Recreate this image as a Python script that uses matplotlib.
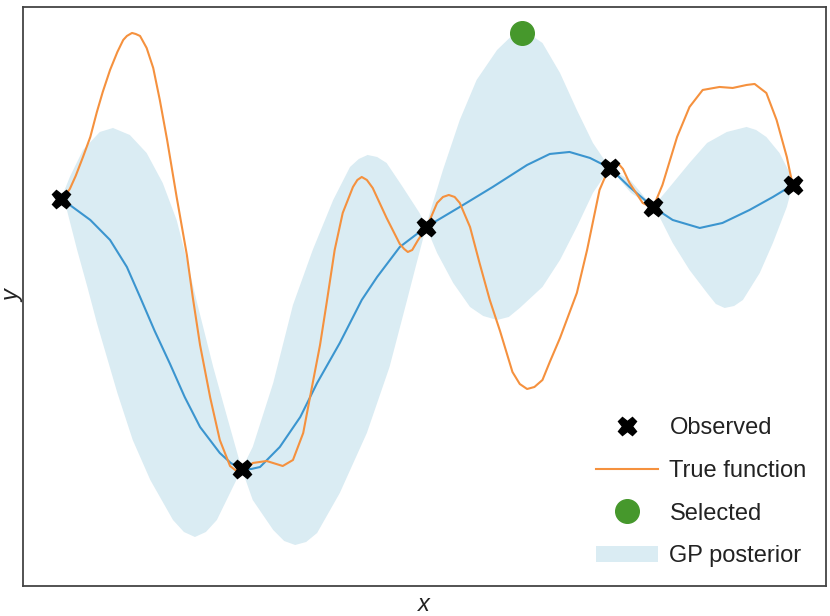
import numpy as np
import matplotlib
matplotlib.use('Agg')
import matplotlib.pyplot as plt

plt.rcParams['font.family'] = ['Liberation Sans', 'DejaVu Sans']

# observed points
obs_x = [0.00, 2.47, 4.99, 7.50, 8.09, 10.00]
obs_y = [1.01, -1.69, 0.73, 1.32, 0.93, 1.15]

# selected next point
sel_x = [6.30]
sel_y = [2.67]

# true function
true_x = [0.00, 0.07, 0.12, 0.20, 0.30, 0.40, 0.49, 0.57, 0.67, 0.77, 0.85, 0.90,
          0.97, 1.02, 1.08, 1.17, 1.26, 1.35, 1.45, 1.58, 1.72, 1.80, 1.90, 2.04,
          2.17, 2.31, 2.38, 2.45, 2.53, 2.62, 2.81, 3.03, 3.17, 3.31, 3.44, 3.54,
          3.63, 3.74, 3.85, 3.99, 4.05, 4.11, 4.18, 4.26, 4.45, 4.63, 4.69, 4.74,
          4.80, 4.88, 5.00, 5.14, 5.22, 5.30, 5.38, 5.45, 5.59, 5.72, 5.86, 6.00,
          6.17, 6.27, 6.37, 6.47, 6.58, 6.68, 6.82, 7.05, 7.19, 7.36, 7.50, 7.61,
          7.68, 7.77, 7.95, 8.09, 8.22, 8.42, 8.59, 8.77, 9.00, 9.18, 9.37, 9.48,
          9.64, 9.78, 9.92, 10.00]
true_y = [1.01, 1.06, 1.11, 1.24, 1.43, 1.63, 1.88, 2.08, 2.30, 2.48, 2.60, 2.64,
          2.67, 2.66, 2.64, 2.52, 2.32, 2.00, 1.60, 1.03, 0.45, 0.03, -0.45, -0.98,
          -1.40, -1.66, -1.70, -1.72, -1.70, -1.63, -1.61, -1.66, -1.60, -1.33, -0.83, -0.45,
          -0.03, 0.50, 0.87, 1.13, 1.20, 1.23, 1.20, 1.12, 0.82, 0.56, 0.51, 0.48,
          0.50, 0.60, 0.73, 0.97, 1.03, 1.05, 1.03, 0.97, 0.73, 0.37, 0.00, -0.31,
          -0.72, -0.84, -0.89, -0.87, -0.80, -0.62, -0.38, 0.07, 0.50, 1.10, 1.34, 1.37,
          1.31, 1.17, 0.97, 0.92, 1.15, 1.63, 1.93, 2.10, 2.13, 2.12, 2.15, 2.16,
          2.07, 1.80, 1.43, 1.15]

# GP posterior mean
mean_x = [0.00, 0.12, 0.40, 0.67, 0.90, 1.08, 1.28, 1.49, 1.69, 1.90, 2.17, 2.32,
          2.47, 2.60, 2.72, 2.99, 3.27, 3.50, 3.81, 4.11, 4.32, 4.63, 4.99, 5.45,
          5.90, 6.37, 6.68, 6.95, 7.23, 7.50, 7.77, 8.09, 8.36, 8.73, 9.04, 9.41,
          9.73, 10.00]
mean_y = [1.01, 0.95, 0.80, 0.60, 0.33, 0.03, -0.31, -0.64, -0.97, -1.27, -1.53, -1.63,
          -1.69, -1.69, -1.67, -1.47, -1.17, -0.83, -0.43, 0.00, 0.23, 0.53, 0.73, 0.93,
          1.13, 1.35, 1.46, 1.48, 1.42, 1.32, 1.13, 0.93, 0.80, 0.72, 0.77, 0.90,
          1.03, 1.15]

# upper edge of the posterior band
upper_x = [0.00, 0.12, 0.30, 0.53, 0.71, 0.94, 1.17, 1.39, 1.58, 1.72, 1.86, 2.08,
           2.27, 2.47, 2.62, 2.90, 3.17, 3.44, 3.72, 3.95, 4.07, 4.19, 4.32, 4.45,
           4.67, 4.90, 4.99, 5.04, 5.22, 5.45, 5.68, 5.96, 6.13, 6.30, 6.44, 6.58,
           6.82, 7.05, 7.27, 7.50, 7.79, 8.09, 8.32, 8.59, 8.83, 9.10, 9.37, 9.50,
           9.64, 9.82, 9.96, 10.00]
upper_y = [1.01, 1.23, 1.50, 1.68, 1.72, 1.65, 1.47, 1.17, 0.80, 0.40, -0.03, -0.67,
           -1.17, -1.69, -1.47, -0.83, -0.05, 0.50, 1.00, 1.33, 1.41, 1.45, 1.43, 1.37,
           1.13, 0.87, 0.73, 0.87, 1.30, 1.80, 2.20, 2.50, 2.62, 2.67, 2.64, 2.57,
           2.27, 1.90, 1.57, 1.32, 1.19, 0.93, 1.13, 1.37, 1.57, 1.68, 1.73, 1.70,
           1.63, 1.47, 1.27, 1.15]

# lower edge of the posterior band
lower_x = [0.00, 0.08, 0.22, 0.36, 0.49, 0.77, 0.98, 1.22, 1.53, 1.68, 1.83, 1.98,
           2.13, 2.31, 2.47, 2.62, 2.90, 3.05, 3.20, 3.35, 3.50, 3.81, 4.18, 4.49,
           4.73, 4.85, 4.99, 5.14, 5.36, 5.59, 5.77, 5.96, 6.12, 6.27, 6.58, 6.82,
           7.05, 7.27, 7.50, 7.79, 8.09, 8.18, 8.36, 8.59, 8.83, 8.95, 9.07, 9.20,
           9.32, 9.55, 9.73, 9.92, 10.00]
lower_y = [1.01, 0.90, 0.50, 0.13, -0.23, -0.93, -1.40, -1.80, -2.20, -2.32, -2.37, -2.32,
           -2.20, -1.93, -1.69, -2.00, -2.30, -2.41, -2.45, -2.42, -2.33, -1.93, -1.33, -0.67,
           0.00, 0.34, 0.73, 0.47, 0.17, -0.07, -0.16, -0.20, -0.17, -0.08, 0.13, 0.40,
           0.73, 1.07, 1.32, 1.07, 0.93, 0.83, 0.57, 0.30, 0.07, -0.04, -0.08, -0.06,
           0.00, 0.27, 0.57, 0.93, 1.15]

fig = plt.figure(figsize=(8.3, 6.16), dpi=100)
ax = fig.add_axes([0.0277, 0.0487, 0.967, 0.940])

band = ax.fill(np.concatenate([upper_x, lower_x[::-1]]),
               np.concatenate([upper_y, lower_y[::-1]]),
               color='#daecf3', lw=0, label='GP posterior', zorder=1)[0]
ax.plot(mean_x, mean_y, color='#3b95cf', lw=1.5, zorder=2, solid_joinstyle='round')
true_line, = ax.plot(true_x, true_y, color='#f5913e', lw=1.5, zorder=3,
                     solid_joinstyle='round', label='True function')
obs_pts, = ax.plot(obs_x, obs_y, 'X', color='black', markersize=13, lw=0,
                   zorder=4, label='Observed')
sel_pts, = ax.plot(sel_x, sel_y, 'o', color='#46982c', markersize=17, lw=0,
                   zorder=4, label='Selected')

ax.set_xlim(-0.52, 10.45)
ax.set_ylim(-2.86, 2.93)
ax.set_xticks([])
ax.set_yticks([])
for sp in ax.spines.values():
    sp.set_color('#444444')
    sp.set_linewidth(1.3)

ax.set_xlabel('x', fontsize=17, style='italic', labelpad=5, color='#222222')
ax.set_ylabel('y', fontsize=17, style='italic', labelpad=-1, color='#222222')

ax.legend([obs_pts, true_line, sel_pts, band],
          ['Observed', 'True function', 'Selected', 'GP posterior'],
          loc='lower right', frameon=False, fontsize=17, handlelength=2.6,
          handletextpad=0.5, labelspacing=0.87, borderaxespad=0.4,
          labelcolor='#222222')

plt.savefig('out.png', dpi=100)
